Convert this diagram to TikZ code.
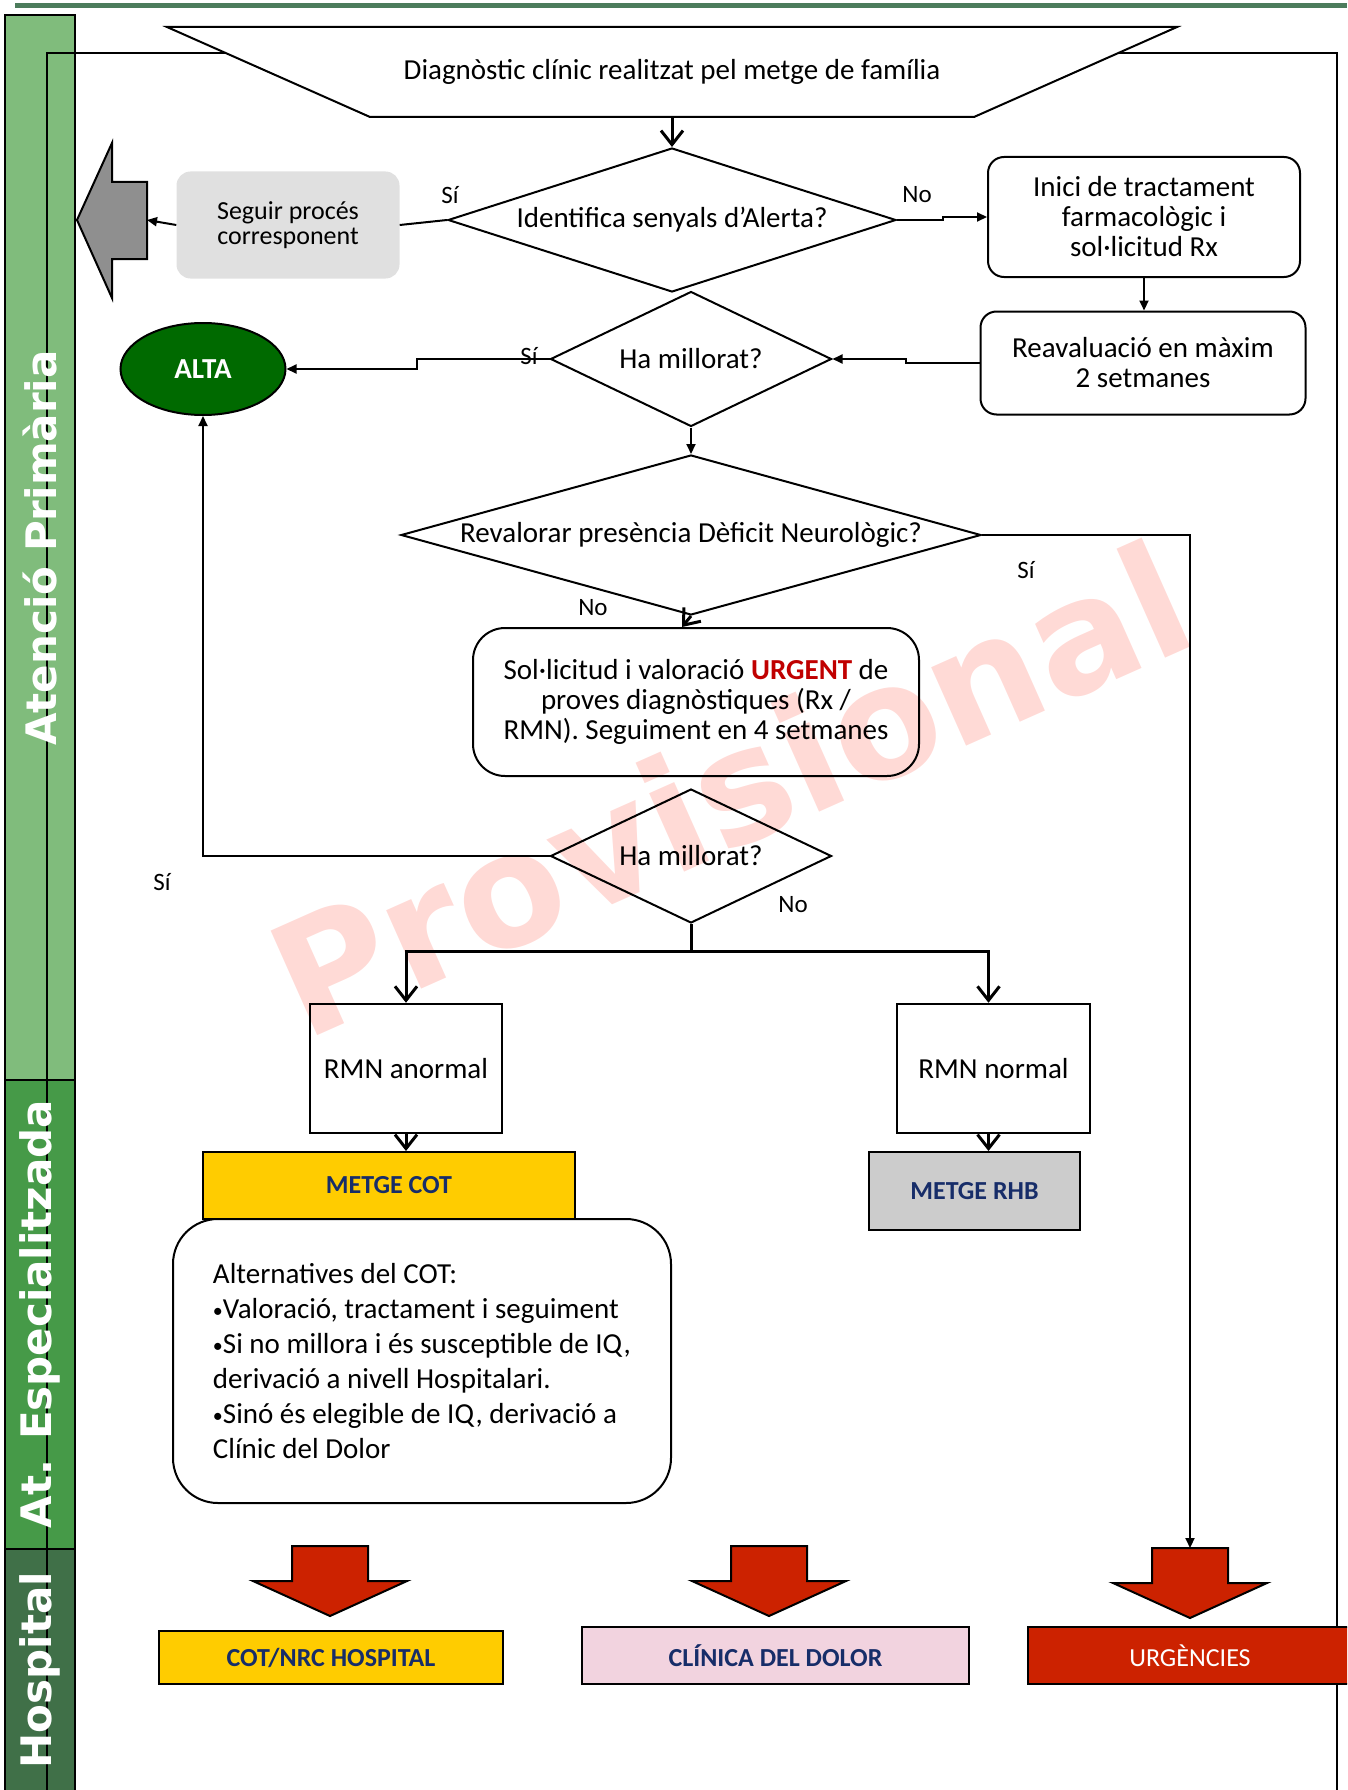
\documentclass[tikz,border=0pt]{standalone}
\usepackage{fontspec}
\setmainfont{Carlito}
\newfontfamily\bandfont{DejaVu Sans}
\usetikzlibrary{arrows.meta,shapes.geometric,calc}
\definecolor{topgreen}{RGB}{76,124,92}
\definecolor{apgreen}{RGB}{128,188,124}
\definecolor{aegreen}{RGB}{70,154,72}
\definecolor{hgreen}{RGB}{64,112,72}
\definecolor{altagreen}{RGB}{0,106,0}
\definecolor{seggray}{RGB}{224,224,224}
\definecolor{arrgray}{RGB}{143,143,143}
\definecolor{gold}{RGB}{255,204,0}
\definecolor{rhbgray}{RGB}{204,204,204}
\definecolor{pinkbox}{RGB}{242,211,223}
\definecolor{redfill}{RGB}{204,34,0}
\definecolor{navy}{RGB}{23,45,105}
\definecolor{urgred}{RGB}{192,0,0}
\definecolor{wmark}{RGB}{255,218,214}
\newcommand\fsz[2]{\fontsize{#1}{#2}\selectfont}
\newcommand\smbul{{\fsz{20}{35}\raisebox{1pt}{•}}}
\newcommand\redarr[2]{%
  \draw[line width=2pt, fill=redfill] ({#1-38},{#2}) -- ({#1+38},{#2}) -- ({#1+38},{#2+35}) -- ({#1+77},{#2+35}) -- ({#1},{#2+70}) -- ({#1-77},{#2+35}) -- ({#1-38},{#2+35}) -- cycle;}
\begin{document}
\begin{tikzpicture}[x=1pt,y=-1pt,
  rbox/.style={draw, line width=2pt, rounded corners=16pt, align=center, inner sep=0pt, font=\fsz{29}{30}},
  sbox/.style={draw, line width=2.5pt, align=center, inner sep=0pt, font=\fsz{29}{30}},
  cbox/.style={draw, line width=2pt, align=center, inner sep=0pt, text=navy, font=\fsz{26}{28}\bfseries},
  dec/.style={draw, diamond, line width=2pt, inner sep=0pt, font=\fsz{29}{30}},
  lbl/.style={font=\fsz{25}{26}, inner sep=0pt},
  thin/.style={line width=2pt},
  thinarr/.style={line width=2pt, -{Triangle[length=10pt,width=9pt]}},
  thickln/.style={line width=3pt},
  barb/.style={line width=3pt, -{Straight Barb[length=14pt,width=22pt]}},
  bandtxt/.style={rotate=90, text=white, font=\bandfont\bfseries\fsz{42}{42}, inner sep=0pt},
]
\useasboundingbox (0,0) rectangle (1347,1790);
\clip (0,0) rectangle (1347,1790);

% watermark
\node[rotate=24, text=wmark, font=\bandfont\bfseries\fsz{157}{157}, inner sep=0pt] (wm) at (730,788) {Provisional};

% top line
\draw[topgreen, line width=5pt] (15,5.5) -- (1347,5.5);

% band
\draw[line width=2.5pt, fill=apgreen] (5,15) rectangle (75,1080);
\draw[line width=2.5pt, fill=aegreen] (5,1080) rectangle (75,1549);
\draw[line width=2.5pt, fill=hgreen] (5,1549) rectangle (75,1800);

% frame
\draw[line width=1.8pt] (47,1800) -- (47,53) -- (1337,53) -- (1337,1800);

\node[bandtxt] (bap) at (40,548) {Atenció Primària};
\node[bandtxt] (bae) at (40,1314) {At. Especialitzada};
\node[bandtxt] (bho) at (40,1670) {Hospital};

% start
\draw[line width=2pt, fill=white] (167,27) -- (1177,27) -- (974,117) -- (370,117) -- cycle;
\node[font=\fsz{29}{30}, inner sep=0pt] (diag) at (672,72) {Diagnòstic clínic realitzat pel metge de família};
\coordinate (diagB) at (672,117);

% decision 1
\node[dec, minimum width=448pt, minimum height=144pt] (d1) at (672,220) {\makebox[0pt]{Identifica senyals d’Alerta?}};
\draw[barb] (diagB) -- (d1.north);

% seguir
\node[fill=seggray, rounded corners=14pt, minimum width=223pt, minimum height=107pt, align=center, inner sep=0pt, font=\fsz{26}{25}] (seg) at (288,225) {Seguir procés\\corresponent};
\draw[line width=2pt, fill=arrgray] (77,220) -- (112,143) -- (112,182) -- (147,182) -- (147,259) -- (112,259) -- (112,298) -- cycle;
\coordinate (garr) at (147,220);
\draw[thin] (d1.west) -- (seg.east);
\draw[thinarr] (seg.west) -- (garr);
\node[lbl] (si1) at (450,195) {Sí};
\node[lbl] (no1) at (917,195) {No};

% inici
\node[rbox, minimum width=312pt, minimum height=120pt] (ini) at (1144,217) {Inici de tractament\\farmacològic i\\sol·licitud Rx};
\draw[thinarr] (d1.east) -- ++(46,0) |- (ini.west);

% reavaluacio
\node[rbox, minimum width=325pt, minimum height=103pt] (rea) at (1143,363) {Reavaluació en màxim\\2 setmanes};
\draw[thinarr] (ini.south) -- (ini.south |- rea.north);

% decision 2
\node[dec, minimum width=281pt, minimum height=135pt] (d2) at (691,359) {\makebox[0pt]{Ha millorat?}};
\draw[thinarr] (rea.west) -- ++(-74,0) |- (d2.east);

% alta
\node[ellipse, draw, line width=2pt, fill=altagreen, minimum width=165pt, minimum height=92pt, text=white, font=\fsz{29}{30}\bfseries, inner sep=0pt] (alta) at (203,369) {ALTA};
\draw[thinarr] (d2.west) -- ++(-133,0) |- (alta.east);
\node[lbl] (si2) at (529,356) {Sí};

% decision 3
\node[dec, minimum width=580pt, minimum height=160pt] (d3) at (691,535) {\makebox[0pt]{Revalorar presència Dèficit Neurològic?}};
\draw[thinarr] (d2.south) -- (d3.north);
\coordinate (urgT) at (1190,1548);
\draw[thinarr] (d3.east) -| (urgT);
\node[lbl] (si3) at (1026,570) {Sí};
\node[lbl] (no3) at (593,608) {No};

% solicitud
\node[rbox, rounded corners=32pt, minimum width=446pt, minimum height=148pt] (sol) at (696,702) {Sol·licitud i valoració {\bfseries\color{urgred}URGENT} de\\proves diagnòstiques (Rx /\\RMN). Seguiment en 4 setmanes};
\draw[barb] (d3.south) -- ([xshift=-14pt]sol.north);

% decision 4
\node[dec, minimum width=281pt, minimum height=134pt] (d4) at (691,856) {\makebox[0pt]{Ha millorat?}};
\draw[thinarr] (d4.west) -| (alta.south);
\node[lbl] (si4) at (162,882) {Sí};
\node[lbl] (no4) at (793,905) {No};

% RMN boxes
\node[sbox, minimum width=192pt, minimum height=129pt] (rmnA) at (406,1068.5) {RMN anormal};
\node[sbox, minimum width=193pt, minimum height=129pt] (rmnN) at (993.5,1068.5) {RMN normal};
\draw[thickln] (d4.south) -- (691,951) coordinate (br);
\draw[barb] (br) -| (rmnA.north);
\draw[barb] (br) -| ([xshift=-5pt]rmnN.north);

% metge cot
\node[cbox, fill=gold, minimum width=372pt, minimum height=67pt] (cot) at (389,1185.5) {METGE COT};
\draw[barb] (rmnA.south) -- (rmnA.south |- cot.north);

% alternatives
\node[draw, line width=2pt, rounded corners=45pt, minimum width=498pt, minimum height=284pt, align=left, inner sep=0pt, font=\fsz{29}{35}] (alt) at (422,1361) {Alternatives del COT:\\\smbul Valoració, tractament i seguiment\\\smbul Si no millora i és susceptible de IQ,\\derivació a nivell Hospitalari.\\\smbul Sinó és elegible de IQ, derivació a\\Clínic del Dolor};

% metge rhb
\node[cbox, fill=rhbgray, minimum width=211pt, minimum height=78pt] (rhb) at (974.5,1191) {METGE RHB};
\draw[barb] ([xshift=-5pt]rmnN.south) -- ([xshift=-5pt]rmnN.south |- rhb.north);

% red arrows
\redarr{330}{1546}
\redarr{769}{1546}
\redarr{1190}{1548}

% hospital boxes
\node[cbox, fill=gold, minimum width=344pt, minimum height=53pt] (coth) at (331,1657.5) {COT/NRC HOSPITAL};
\node[cbox, fill=pinkbox, minimum width=387pt, minimum height=57pt] (clin) at (775.5,1655.5) {CLÍNICA DEL DOLOR};
\node[draw, line width=2pt, fill=redfill, text=white, font=\fsz{26}{28}, minimum width=324pt, minimum height=57pt, inner sep=0pt] (urg) at (1190,1655.5) {URGÈNCIES};
\end{tikzpicture}
\end{document}
